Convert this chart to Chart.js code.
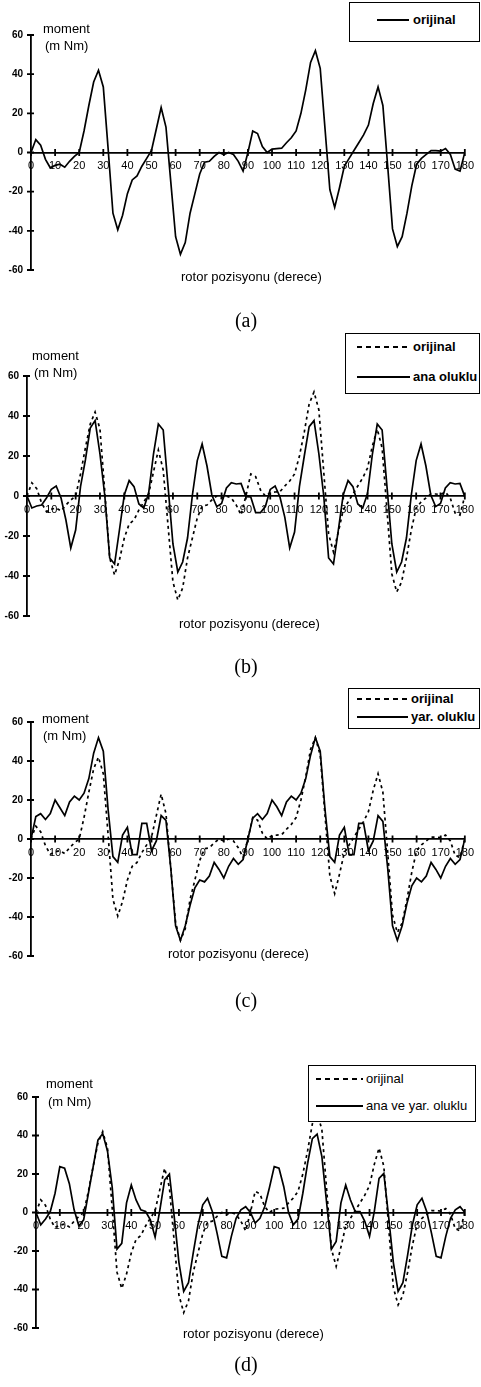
<!DOCTYPE html>
<html>
<head>
<meta charset="utf-8">
<script src="https://cdn.jsdelivr.net/npm/chart.js@4.4.1/dist/chart.umd.min.js"></script>
<style>
  html, body { margin: 0; padding: 0; background: #fff; }
  body { position: relative; width: 481px; height: 1387px; overflow: hidden; color: #000;
         font-family: "Liberation Sans", Arial, sans-serif; }
  canvas { position: absolute; left: 0; }
  .txt { position: absolute; white-space: nowrap; font-size: 13px; line-height: 13px; z-index: 2; }
  .bold { font-weight: bold; }
  .cap { position: absolute; white-space: nowrap; font-family: "Liberation Serif", "Times New Roman", serif;
         font-size: 20px; line-height: 20px; z-index: 2; transform: translateX(-50%); }
  .legend { position: absolute; background: #fff; border: 1.3px solid #000; box-sizing: border-box; z-index: 3; }
  .swatch { position: absolute; height: 1.8px; background: #000; z-index: 4; }
  .swatch.dashed { background: repeating-linear-gradient(to right, #000 0 5px, transparent 5px 9px); height: 2px; }
  .legend-txt { z-index: 4; }
</style>
</head>
<body>
<canvas id="chart-a" width="481" height="290" style="top:0px"></canvas>
<canvas id="chart-b" width="481" height="300" style="top:330px"></canvas>
<canvas id="chart-c" width="481" height="290" style="top:680px"></canvas>
<canvas id="chart-d" width="481" height="295" style="top:1050px"></canvas>

<script>
// rotor position (degrees), one sample every 2 degrees
var angles = [
  0, 2, 4, 6, 8, 10, 12, 14, 16, 18,
  20, 22, 24, 26, 28, 30, 32, 34, 36, 38,
  40, 42, 44, 46, 48, 50, 52, 54, 56, 58,
  60, 62, 64, 66, 68, 70, 72, 74, 76, 78,
  80, 82, 84, 86, 88, 90, 92, 94, 96, 98,
  100, 102, 104, 106, 108, 110, 112, 114, 116, 118,
  120, 122, 124, 126, 128, 130, 132, 134, 136, 138,
  140, 142, 144, 146, 148, 150, 152, 154, 156, 158,
  160, 162, 164, 166, 168, 170, 172, 174, 176, 178,
  180
];

// moment (m Nm)
var orijinal = [
  0, 6.6, 3.7, -3.5, -7.8, -6.6, -6, -7.5, -4.5, -2,
  0, 11, 24, 36, 42, 33.5, 2, -31, -39.5, -32,
  -21, -14, -12, -7, -3, 1, 12, 23, 13, -15,
  -43, -52, -46, -31, -21, -11, -5, -4.5, -2, 0,
  -1, 0, -1, -4.5, -9.5, 0, 11, 9.7, 3, 0,
  1.7, 2, 2.2, 5, 7.5, 11, 20, 32, 46, 52,
  43, 12, -19, -28, -18, -7, -3, 1, 5, 9,
  14, 25, 33.5, 24, -7, -39, -48, -43, -31, -17,
  -6, -3, -1, 1, 1, 0.7, 2, -1, -8.5, -9.5,
  0
];

var anaOluklu = [
  0, -6, -5, -4.5, -1, 3.3, 5, -1, -12, -26,
  -17, 4.7, 18, 34, 37.7, 21, 0, -31, -34, -17,
  0.5, 7.7, 4.7, -4, -6, 1.3, 21, 36, 33, 4.7,
  -24, -38, -33, -21, 0.5, 17.7, 26, 15, 0.5, -5.3,
  -3.7, 4, 6.7, 6, 6.3, -0.3, -0.5, -8.3, -8.3, -5.3,
  3.3, 5, -0.5, -10.7, -26, -18, 4.7, 20, 34.7, 37.7,
  21, 0, -31, -34, -17, 0.5, 7.7, 4.7, -4, -6,
  1.3, 21, 36, 33, 4.7, -24, -38, -33, -21, 0.5,
  17.7, 26, 15, 0.5, -5.3, -3.7, 4, 6.7, 6, 6.3,
  -0.3
];

var yarOluklu = [
  0, 11.5, 13, 10, 13, 20, 16, 12, 19, 22,
  20, 23.5, 31, 44, 52, 45, 15, -9, -12, 2,
  6, -8, -8, 8, 8, -6, -1, 12, 9.5, -15,
  -44.5, -52, -44.5, -34, -25, -21, -22, -19, -12, -15.6,
  -20, -14, -10, -13, -10.5, 0, 10.7, 13, 10, 13,
  20, 16.5, 12, 19, 22, 20, 23.5, 31, 43, 52,
  45, 15, -9, -12, 2, 6, -8, -8, 8, 8,
  -6, -1, 12, 9, -15, -44.5, -52, -44.5, -33, -24,
  -20, -22, -19, -12, -15.6, -20, -14, -10, -13, -10.5,
  0
];

var anaVeYarOluklu = [
  0, -6.4, -3.4, 0.5, 10, 23.8, 23, 15, 1.4, -7,
  -3.8, 10, 23.8, 37.6, 41, 32, 13, -19, -16, 5,
  14.3, 6.5, 1.4, 0.5, -3.8, -12.8, 1.4, 17, 20, -2,
  -26, -41, -36.5, -21, -6.4, 4, 7.4, 0.5, -10.7, -22.8,
  -23.6, -12.4, -3, 1.4, 3, 0, -5.5, -3, 3, 13,
  23.8, 23, 13.4, 0, -6.4, -3.4, 10, 25.5, 38.4, 40.7,
  29, 5, -19, -15, 5, 14.3, 6.5, 0.5, 0.5, -4.6,
  -12.4, 0.5, 17.7, 20.3, -2, -26, -41, -36.5, -22, -6.4,
  4, 7.4, 0.5, -10.7, -22.8, -23.6, -12.4, -3, 1.4, 3,
  0
];

var xTicks = [0, 10, 20, 30, 40, 50, 60, 70, 80, 90, 100, 110, 120, 130, 140, 150, 160, 170, 180];
var yTicks = [-60, -40, -20, 0, 20, 40, 60];

var labelOrijinal = "orijinal";
var labelAna = "ana oluklu";
var labelYar = "yar. oluklu";
var labelAnaYar = "ana ve yar. oluklu";
var yTitle = ["moment", "(m Nm)"];
var xTitle = "rotor pozisyonu (derece)";

function toPoints(values) {
  return angles.map(function (a, i) {
    return { x: a, y: values[i] };
  });
}

// tick marks crossing the axis lines, like the original figure
var crossTicks = {
  id: "crossTicks",
  afterDraw: function (chart) {
    var ctx = chart.ctx;
    var xs = chart.scales.x;
    var ys = chart.scales.y;
    var y0 = ys.getPixelForValue(0);

    ctx.save();
    ctx.strokeStyle = "#000";
    ctx.lineWidth = 1.8;
    ctx.beginPath();
    xs.ticks.forEach(function (t) {
      var px = xs.getPixelForValue(t.value);
      ctx.moveTo(px, y0 - 3.5);
      ctx.lineTo(px, y0 + 3.5);
    });
    ys.ticks.forEach(function (t) {
      var py = ys.getPixelForValue(t.value);
      ctx.moveTo(ys.right - 4, py);
      ctx.lineTo(ys.right + 3, py);
    });
    ctx.stroke();
    ctx.restore();
  }
};

function buildChart(p) {
  var datasets = p.series.map(function (s) {
    return {
      label: s.label,
      data: toPoints(s.values),
      borderColor: "#000",
      borderWidth: s.dashed ? 1.7 : 1.7,
      borderDash: s.dashed ? [3, 3.5] : [],
      pointRadius: 0,
      tension: 0,
      fill: false
    };
  });

  new Chart(document.getElementById(p.canvas), {
    type: "line",
    data: { datasets: datasets },
    plugins: [crossTicks],
    options: {
      responsive: false,
      animation: false,
      devicePixelRatio: 1,
      layout: {
        padding: {
          left: 0,
          right: 481 - p.right,
          top: p.plotTop - p.top,
          bottom: p.top + p.height - p.plotBottom
        }
      },
      plugins: { legend: { display: false }, tooltip: { enabled: false } },
      scales: {
        x: {
          type: "linear",
          min: 0,
          max: 180,
          position: { y: 0 },
          afterBuildTicks: function (s) {
            s.ticks = xTicks.map(function (v) { return { value: v }; });
          },
          grid: { drawOnChartArea: false, drawTicks: false },
          border: { display: true, color: "#000", width: 1.8 },
          ticks: {
            color: "#000",
            font: { family: "Liberation Sans", size: 11 },
            padding: 7,
            maxRotation: 0,
            autoSkip: false
          }
        },
        y: {
          type: "linear",
          min: -60,
          max: 60,
          position: "left",
          afterBuildTicks: function (s) {
            s.ticks = yTicks.map(function (v) { return { value: v }; });
          },
          afterFit: function (s) {
            s.width = p.left;
          },
          grid: { drawOnChartArea: false, drawTicks: false },
          border: { display: true, color: "#000", width: 1.8 },
          ticks: {
            color: "#000",
            font: { family: "Liberation Sans", size: 10, weight: "bold" },
            padding: 8
          }
        }
      }
    }
  });
}

function addText(text, x, y, cls) {
  var el = document.createElement("div");
  el.className = cls;
  el.textContent = text;
  el.style.left = x + "px";
  el.style.top = y + "px";
  document.body.appendChild(el);
  return el;
}

function addLegend(box, items, bold) {
  var div = document.createElement("div");
  div.className = "legend";
  div.style.left = box.x + "px";
  div.style.top = box.y + "px";
  div.style.width = box.w + "px";
  div.style.height = box.h + "px";
  document.body.appendChild(div);

  items.forEach(function (item) {
    var sw = document.createElement("div");
    sw.className = "swatch" + (item.dashed ? " dashed" : "");
    sw.style.left = box.lineX1 + "px";
    sw.style.width = (box.lineX2 - box.lineX1) + "px";
    sw.style.top = (item.y - 1) + "px";
    document.body.appendChild(sw);
    addText(item.label, box.textX, item.y - 7, "txt legend-txt" + (bold ? " bold" : ""));
  });
}

var panels = [
  {
    canvas: "chart-a", top: 0, height: 290,
    left: 31, right: 475, plotTop: 35, plotBottom: 270,
    series: [{ label: labelOrijinal, values: orijinal, dashed: false }]
  },
  {
    canvas: "chart-b", top: 330, height: 300,
    left: 27, right: 468, plotTop: 376, plotBottom: 616,
    series: [
      { label: labelOrijinal, values: orijinal, dashed: true },
      { label: labelAna, values: anaOluklu, dashed: false }
    ]
  },
  {
    canvas: "chart-c", top: 680, height: 290,
    left: 31, right: 473, plotTop: 722, plotBottom: 956,
    series: [
      { label: labelOrijinal, values: orijinal, dashed: true },
      { label: labelYar, values: yarOluklu, dashed: false }
    ]
  },
  {
    canvas: "chart-d", top: 1050, height: 295,
    left: 36, right: 467, plotTop: 1097, plotBottom: 1328,
    series: [
      { label: labelOrijinal, values: orijinal, dashed: true },
      { label: labelAnaYar, values: anaVeYarOluklu, dashed: false }
    ]
  }
];

panels.forEach(buildChart);

// axis titles
addText(yTitle[0], 43, 22, "txt");
addText(yTitle[1], 45, 39, "txt");
addText(yTitle[0], 32, 349, "txt");
addText(yTitle[1], 34, 366, "txt");
addText(yTitle[0], 42, 712, "txt");
addText(yTitle[1], 43, 729, "txt");
addText(yTitle[0], 46, 1077, "txt");
addText(yTitle[1], 48, 1095, "txt");

addText(xTitle, 181, 270, "txt");
addText(xTitle, 179, 617, "txt");
addText(xTitle, 168, 947, "txt");
addText(xTitle, 183, 1327, "txt");

// panel captions
addText("(a)", 246, 310, "cap");
addText("(b)", 246, 656, "cap");
addText("(c)", 246, 990, "cap");
addText("(d)", 246, 1354, "cap");

// legends
addLegend({ x: 349, y: 2, w: 131, h: 40, lineX1: 377, lineX2: 409, textX: 413 },
  [{ label: labelOrijinal, y: 20, dashed: false }], true);
addLegend({ x: 345, y: 333, w: 135, h: 61, lineX1: 357, lineX2: 410, textX: 413 },
  [{ label: labelOrijinal, y: 347, dashed: true }, { label: labelAna, y: 377, dashed: false }], true);
addLegend({ x: 348, y: 688, w: 132, h: 41, lineX1: 357, lineX2: 408, textX: 411 },
  [{ label: labelOrijinal, y: 699, dashed: true }, { label: labelYar, y: 717, dashed: false }], true);
addLegend({ x: 308, y: 1065, w: 168, h: 57, lineX1: 316, lineX2: 363, textX: 366 },
  [{ label: labelOrijinal, y: 1079, dashed: true }, { label: labelAnaYar, y: 1106, dashed: false }], false);
</script>
</body>
</html>
